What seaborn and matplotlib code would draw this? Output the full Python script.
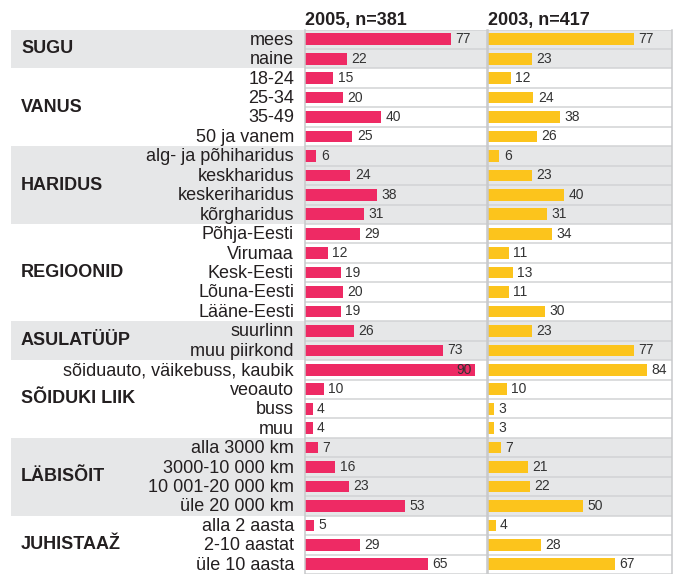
import matplotlib
matplotlib.use('Agg')
import matplotlib.pyplot as plt
import seaborn as sns
import pandas as pd

groups = ['SUGU', 'VANUS', 'HARIDUS', 'REGIOONID', 'ASULATÜÜP', 'SÕIDUKI LIIK', 'LÄBISÕIT', 'JUHISTAAŽ']
categories = [
    ['mees', 'naine'],
    ['18-24', '25-34', '35-49', '50 ja vanem'],
    ['alg- ja põhiharidus', 'keskharidus', 'keskeriharidus', 'kõrgharidus'],
    ['Põhja-Eesti', 'Virumaa', 'Kesk-Eesti', 'Lõuna-Eesti', 'Lääne-Eesti'],
    ['suurlinn', 'muu piirkond'],
    ['sõiduauto, väikebuss, kaubik', 'veoauto', 'buss', 'muu'],
    ['alla 3000 km', '3000-10 000 km', '10 001-20 000 km', 'üle 20 000 km'],
    ['alla 2 aasta', '2-10 aastat', 'üle 10 aasta'],
]
values_2005 = [77, 22, 15, 20, 40, 25, 6, 24, 38, 31, 29, 12, 19, 20, 19,
               26, 73, 90, 10, 4, 4, 7, 16, 23, 53, 5, 29, 65]
values_2003 = [77, 23, 12, 24, 38, 26, 6, 23, 40, 31, 34, 11, 13, 11, 30,
               23, 77, 84, 10, 3, 3, 7, 21, 22, 50, 4, 28, 67]
headers = ['2005, n=381', '2003, n=417']

PINK = '#EE2A64'
YELLOW = '#FCC41C'
BAND = '#E6E7E8'
LINE = '#D2D3D5'
TXT = '#231F20'

plt.rcParams['font.family'] = ['Liberation Sans', 'DejaVu Sans']

cats = [c for g in categories for c in g]
df = pd.DataFrame({'cat': cats, 'v2005': values_2005, 'v2003': values_2003})
n = len(cats)

W, H = 676, 574
fig = plt.figure(figsize=(W / 100, H / 100), dpi=100)
area_h = (H - 29.5) / H

# background: shaded groups + labels
bg = fig.add_axes([11 / W, 0, (672 - 11) / W, area_h])
bg.set_xlim(0, 661)
bg.set_ylim(n - 0.5, -0.5)
bg.axis('off')
start = 0
for gi, (g, cs) in enumerate(zip(groups, categories)):
    end = start + len(cs) - 1
    if gi % 2 == 0:
        bg.axhspan(start - 0.5, end + 0.5, color=BAND, lw=0)
    bg.text(10, (start + end) / 2, g, fontsize=13, fontweight='bold',
            va='center', ha='left', color=TXT)
    for k, c in enumerate(cs):
        bg.text(283, start + k + 0.05, c, fontsize=13, va='center', ha='right', color=TXT)
    start = end + 1

panels = [
    ([305 / W, 0, 182 / W, area_h], 'v2005', PINK, 96.1, headers[0]),
    ([488 / W, 0, 184 / W, area_h], 'v2003', YELLOW, 97.2, headers[1]),
]
for pos, col, color, xmax, head in panels:
    ax = fig.add_axes(pos)
    ax.patch.set_alpha(0)
    for i in range(n + 1):
        ax.axhline(i - 0.5, color=LINE, lw=1.1, zorder=0)
    sns.barplot(data=df, x=col, y='cat', ax=ax, color=color, saturation=1,
                width=0.6, orient='h', zorder=2)
    ax.set_xlim(0, xmax)
    ax.set_ylim(n - 0.5, -0.5)
    ax.set_xticks([])
    ax.set_yticks([])
    ax.set_xlabel('')
    ax.set_ylabel('')
    for s in ['top', 'bottom']:
        ax.spines[s].set_visible(False)
    for s in ['left', 'right']:
        ax.spines[s].set_color('#C8C9CB')
        ax.spines[s].set_linewidth(1.1)
    for i, v in enumerate(df[col]):
        if v >= 85 and col == 'v2005':
            ax.annotate(str(v), (v, i), xytext=(-3, 0), textcoords='offset points',
                        va='center', ha='right', fontsize=10, color='#333333')
        else:
            ax.annotate(str(v), (v, i), xytext=(3.2, 0), textcoords='offset points',
                        va='center', ha='left', fontsize=10, color='#333333')
    fig.text(pos[0], 1 - 25 / H, head, fontsize=13, fontweight='bold',
             ha='left', va='baseline', color=TXT)

fig.savefig('out.png', dpi=100)
